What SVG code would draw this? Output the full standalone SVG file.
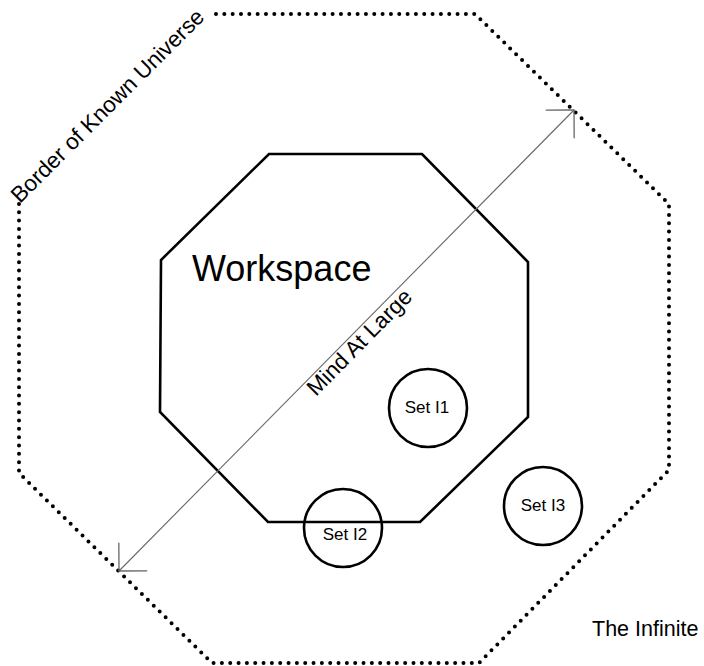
<svg xmlns="http://www.w3.org/2000/svg" width="704" height="666" viewBox="0 0 704 666">
<style>
text{font-family:"Liberation Sans",Arial,sans-serif;fill:#000}
.solid{fill:none;stroke:#000;stroke-width:2.6}
.dotted{fill:none;stroke:#000;stroke-width:4;stroke-linecap:round;stroke-dasharray:0 8.33}
.conn{fill:none;stroke:#666;stroke-width:1.1}
.lbl{font-size:17px;text-anchor:middle}
.big{font-size:22.5px}
</style>
<defs>
<marker id="arr" markerUnits="userSpaceOnUse" viewBox="-22 -22 24 44" refX="0" refY="0" markerWidth="24" markerHeight="44" orient="auto-start-reverse">
<path d="M-20,-20 L0,0 L-20,20" fill="none" stroke="#666" stroke-width="1.3"/>
</marker>
</defs>
<rect width="704" height="666" fill="#fff"/>
<g id="border">
<path class="dotted" d="M216,14 H475 L669,204 V470 L479,663 H212 L19,473 V203"/>
<text class="big" transform="translate(20,204) rotate(-45)">Border of Known Universe</text>
</g>
<g id="infinite">
<text x="592" y="636" style="font-size:21.5px">The Infinite</text>
</g>
<g id="workspace">
<path class="solid" d="M269,154 H422 L528,262 V417 L420,522 H268 L160,412 L161,260 Z"/>
<text x="192" y="281" style="font-size:36px">Workspace</text>
</g>
<g id="set-i1">
<circle class="solid" cx="428" cy="408" r="39"/>
<text class="lbl" x="427" y="413">Set I1</text>
</g>
<g id="set-i2">
<circle class="solid" cx="343" cy="528" r="39"/>
<text class="lbl" x="345" y="540">Set I2</text>
</g>
<g id="set-i3">
<circle class="solid" cx="543" cy="506" r="39"/>
<text class="lbl" x="543" y="511">Set I3</text>
</g>
<g id="connectors">
<line class="conn" x1="119" y1="571" x2="574" y2="110" marker-start="url(#arr)" marker-end="url(#arr)"/>
<text class="big" transform="translate(316,397) rotate(-45.4)">Mind At Large</text>
</g>
</svg>
